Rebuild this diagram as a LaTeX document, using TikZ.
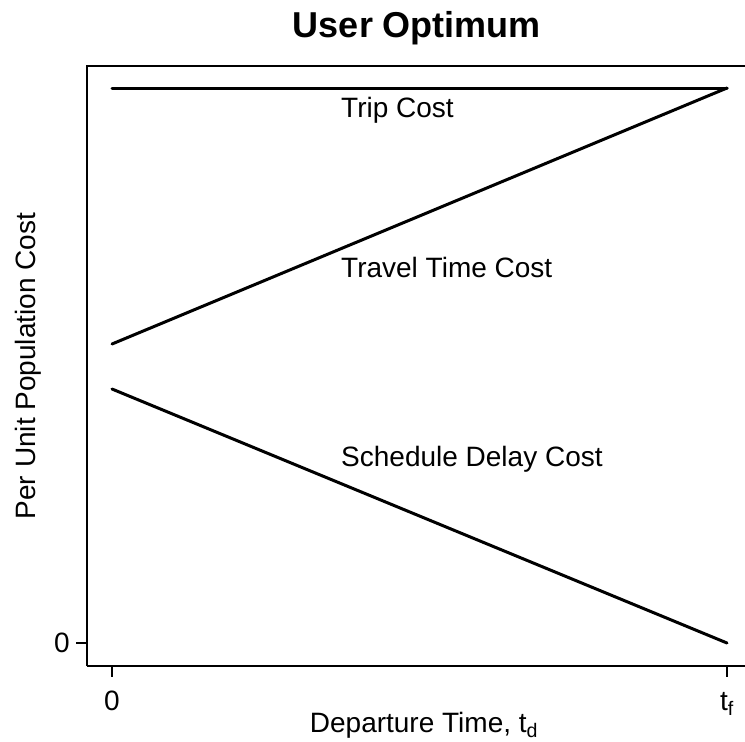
\documentclass[tikz,border=0pt]{standalone}
\usepackage{fontspec}
\setmainfont{Liberation Sans}
\tikzset{
  curve/.style={line width=3pt, line cap=round},
  frame/.style={line width=1.3pt},
  tick/.style={line width=1.3pt},
  lbl/.style={font=\fontsize{28}{33}\selectfont, inner sep=0pt},
}
\begin{document}
\begin{tikzpicture}[x=1pt,y=-1pt]
    \useasboundingbox[fill=white] (0,0) rectangle (745,742);
    % plot frame
    \draw[frame] (87,666) -- (87,66) -- (746,66);
    \draw[frame] (87,666) -- (746,666);
    % cost lines
    \coordinate (start-trip)  at (112,88);
    \coordinate (end-trip)    at (727,88);
    \coordinate (start-travel) at (112,344);
    \coordinate (start-sched) at (112,389);
    \coordinate (end-sched)   at (727,643);
    \draw[curve] (start-trip) -- (end-trip);
    \draw[curve] (start-travel) -- (end-trip);
    \draw[curve] (start-sched) -- (end-sched);
    \node[lbl, anchor=base west] (trip) at (341,117) {Trip Cost};
    \node[lbl, anchor=base west] (travel) at (341,277) {Travel Time Cost};
    \node[lbl, anchor=base west] (sched) at (341,466) {Schedule Delay Cost};
    % ticks
    \draw[tick] (112,666) -- (112,677) coordinate (tick-x0);
    \draw[tick] (727,666) -- (727,677) coordinate (tick-xf);
    \draw[tick] (87,643) -- (76,643) coordinate (tick-y0);
    \node[lbl, anchor=base] (x0) at (112,710) {0};
    \node[lbl, anchor=base] (xf) at (727,710) {t\textsubscript{f}};
    \node[lbl, anchor=east] (y0) at (70,643) {0};
    % axis titles
    \node[lbl, anchor=base] (xlabel) at (424,732) {Departure Time, t\textsubscript{d}};
    \node[lbl, anchor=base, rotate=90] (ylabel) at (35,366) {Per Unit Population Cost};
    \node[font=\fontsize{36}{40}\selectfont\bfseries, anchor=base, inner sep=0pt] (title) at (417,37) {User Optimum};
\end{tikzpicture}
\end{document}
